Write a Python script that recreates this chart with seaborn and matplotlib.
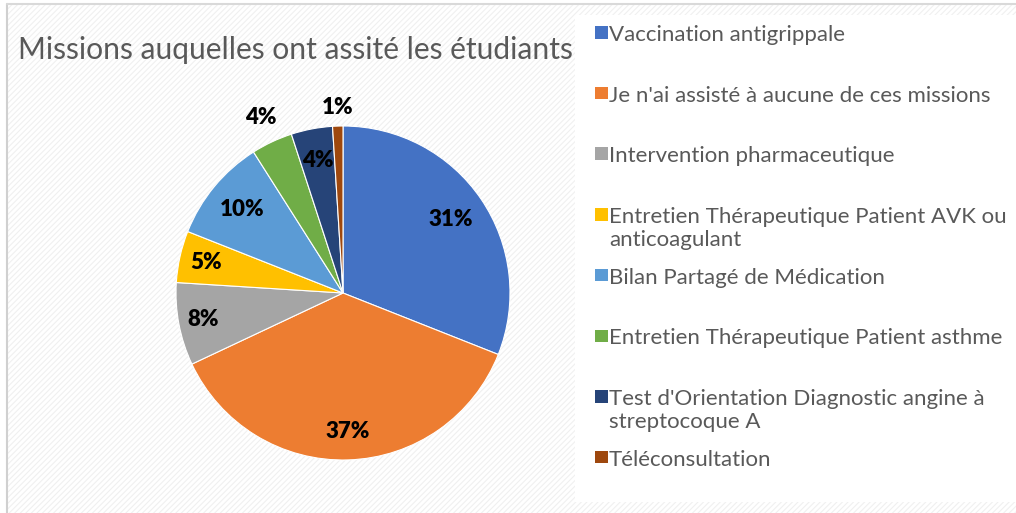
import numpy as np
import matplotlib
matplotlib.use("Agg")
import matplotlib.pyplot as plt
import seaborn as sns
from matplotlib.patches import Rectangle

# ---- data ----
categories = [
    "Vaccination antigrippale",
    "Je n'ai assisté à aucune de ces missions",
    "Intervention pharmaceutique",
    "Entretien Thérapeutique Patient AVK ou\nanticoagulant",
    "Bilan Partagé de Médication",
    "Entretien Thérapeutique Patient asthme",
    "Test d'Orientation Diagnostic angine à\nstreptocoque A",
    "Téléconsultation",
]
values = [31, 37, 8, 5, 10, 4, 4, 1]
pct_labels = ["31%", "37%", "8%", "5%", "10%", "4%", "4%", "1%"]
title = "Missions auquelles ont assité les étudiants"

# ---- style ----
colors = sns.color_palette(["#4472C4", "#ED7D31", "#A5A5A5", "#FFC000",
                            "#5B9BD5", "#70AD47", "#264478", "#9E480E"])
label_radius = [0.78, 0.83, 0.85, 0.84, 0.78, 1.16, 0.81, 1.11]

sns.set_theme(style="white")
plt.rcParams["font.family"] = ["Lato", "DejaVu Sans"]
plt.rcParams["hatch.color"] = "#f0f0f0"
plt.rcParams["hatch.linewidth"] = 0.8

W, H = 1016, 513
fig = plt.figure(figsize=(W / 100, H / 100), dpi=100)
fig.patch.set_facecolor("white")

def fx(px):
    return px / W

def fy(py):
    return 1 - py / H

# hatched background + border
fig.patches.append(Rectangle((fx(7), 0), 1, fy(4), transform=fig.transFigure,
                             facecolor="white", edgecolor="#f0f0f0", hatch="//////",
                             lw=0, zorder=0))
fig.add_artist(plt.Line2D([fx(7), fx(7)], [0, fy(4)], color="#d0d0d0", lw=1.5,
                          transform=fig.transFigure))
fig.add_artist(plt.Line2D([fx(7), 1], [fy(4), fy(4)], color="#d9d9d9", lw=1.5,
                          transform=fig.transFigure))
# legend white panel
fig.patches.append(Rectangle((fx(575), fy(502)), fx(1016 - 575), (502 - 15) / H,
                             transform=fig.transFigure, facecolor="white",
                             edgecolor="none", zorder=1))

# ---- pie ----
R = 167
cx, cy = 343, 293
lim = 1.25
ax = fig.add_axes([fx(cx - R * lim), fy(cy + R * lim), 2 * R * lim / W, 2 * R * lim / H])
ax.set_zorder(2)
ax.patch.set_alpha(0)
wedges, _ = ax.pie(values, colors=colors, startangle=90, counterclock=False,
                   radius=1, wedgeprops=dict(edgecolor="white", linewidth=0.8))
ax.set_xlim(-lim, lim)
ax.set_ylim(-lim, lim)
ax.set_aspect("equal")
ax.axis("off")

for w, lab, rr in zip(wedges, pct_labels, label_radius):
    ang = np.deg2rad((w.theta1 + w.theta2) / 2)
    ax.text(rr * np.cos(ang), rr * np.sin(ang), lab, ha="center", va="center",
            fontsize=16, fontweight="heavy", color="black")

# ---- title ----
fig.text(fx(18), fy(50), title, ha="left", va="center", fontsize=21.6,
         color="#595959", zorder=3)

# ---- legend ----
first_line_y = 33
step = 60.7
for i, (cat, col) in enumerate(zip(categories, colors)):
    y = first_line_y + i * step
    fig.patches.append(Rectangle((fx(595), fy(y + 5.5)), fx(12.5), 12.5 / H,
                                 transform=fig.transFigure, facecolor=col,
                                 edgecolor="none", zorder=3))
    fig.text(fx(609), fy(y - 8), cat, ha="left", va="top", fontsize=16,
             color="#595959", linespacing=1.18, zorder=3)

fig.savefig("out.png", dpi=100)
